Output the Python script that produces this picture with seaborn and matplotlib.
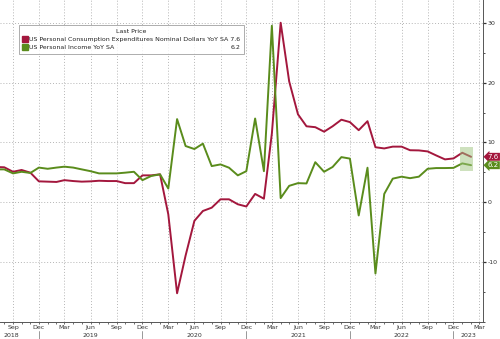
import numpy as np
import pandas as pd
import matplotlib
matplotlib.use("Agg")
import matplotlib.pyplot as plt
import matplotlib.dates as mdates
import matplotlib.transforms as mtrans
from matplotlib.lines import Line2D
from matplotlib.patches import Rectangle
from matplotlib.ticker import MultipleLocator
import seaborn as sns

# Monthly YoY % changes, Jul 2018 - Feb 2023
months = pd.date_range("2018-07-01", "2023-02-01", freq="MS")

pce_yoy = [5.9, 5.85, 5.1, 5.4, 4.95, 3.5,
           3.45, 3.4, 3.7, 3.55, 3.45, 3.5, 3.6, 3.55, 3.55, 3.2, 3.2, 4.5,
           4.5, 4.67, -2.0, -15.2, -8.9, -3.1, -1.45, -0.9, 0.5, 0.5, -0.33, -0.7,
           1.4, 0.6, 11.5, 30.0, 20.2, 14.7, 12.7, 12.55, 11.8, 12.7, 13.8, 13.4,
           12.05, 13.55, 9.2, 9.0, 9.3, 9.3, 8.7, 8.67, 8.5, 7.83, 7.17, 7.33,
           8.28, 7.6]

income_yoy = [5.5, 5.5, 4.83, 5.1, 4.9, 5.8,
              5.6, 5.8, 5.95, 5.8, 5.5, 5.2, 4.83, 4.83, 4.83, 4.95, 5.1, 3.7,
              4.4, 4.67, 2.3, 13.9, 9.4, 8.9, 9.8, 6.05, 6.33, 5.78, 4.5, 5.2,
              14.0, 5.2, 29.5, 0.7, 2.75, 3.2, 3.15, 6.7, 5.1, 5.9, 7.55, 7.3,
              -2.2, 5.78, -11.9, 1.4, 3.95, 4.28, 4.03, 4.28, 5.6, 5.72, 5.72, 5.75,
              6.5, 6.2]

series_names = ["US Personal Consumption Expenditures Nominal Dollars YoY SA",
                "US Personal Income YoY SA"]
last_values = ["7.6", "6.2"]
colors = ["#a3173d", "#5a8c1c"]
year_labels = ["2018", "2019", "2020", "2021", "2022", "2023"]

df = pd.DataFrame({
    "date": list(months) * 2,
    "value": pce_yoy + income_yoy,
    "series": [series_names[0]] * len(months) + [series_names[1]] * len(months),
})

sns.set_style("white")
plt.rcParams["font.family"] = ["DejaVu Sans"]
plt.rcParams["axes.unicode_minus"] = False

TICK_FS = 4.5
LEG_FS = 4.5

fig = plt.figure(figsize=(5.0, 3.39), dpi=100)
ax = fig.add_axes([0.0, 17 / 339, 483 / 500, 322 / 339])

sns.lineplot(data=df, x="date", y="value", hue="series",
             palette=dict(zip(series_names, colors)), linewidth=1.4,
             legend=False, ax=ax)

x0, x1 = pd.Timestamp("2018-07-17"), pd.Timestamp("2023-03-15")
ax.set_xlim(x0, x1)
ax.set_ylim(-20, 33.8)
ax.set_xlabel("")
ax.set_ylabel("")

# Spines
for s in ["left", "top"]:
    ax.spines[s].set_visible(False)
for s in ["right", "bottom"]:
    ax.spines[s].set_color("#555555")
    ax.spines[s].set_linewidth(0.7)

# Y axis on the right
ax.yaxis.tick_right()
ax.set_yticks([-10, 0, 10, 20, 30])
ax.yaxis.set_minor_locator(MultipleLocator(5))
ax.tick_params(axis="y", which="both", direction="out", right=True, left=False,
               length=2.0, width=0.9, color="#333333", labelsize=TICK_FS, pad=1.3,
               labelcolor="#333333")
ax.tick_params(axis="y", which="minor", length=1.3, width=0.6)

# X axis: quarterly labels, monthly minor ticks
ax.xaxis.set_major_locator(mdates.MonthLocator(bymonth=[3, 6, 9, 12]))
ax.xaxis.set_major_formatter(mdates.DateFormatter("%b"))
ax.xaxis.set_minor_locator(mdates.MonthLocator())
ax.tick_params(axis="x", which="both", direction="out", bottom=True,
               length=1.5, width=0.6, color="#555555", labelsize=TICK_FS, pad=1.0,
               labelcolor="#333333")

ax.grid(True, which="major", linestyle=(0, (1, 2)), color="#b5b5b5", linewidth=0.7)

# Year row under the month labels
blend = mtrans.blended_transform_factory(ax.transData, ax.transAxes)
year_pos = [pd.Timestamp("2018-08-26")] + [pd.Timestamp(f"{y}-06-01") for y in range(2019, 2023)] \
    + [pd.Timestamp("2023-01-23")]
for d, lab in zip(year_pos, year_labels):
    ax.text(d, -0.042, lab, transform=blend, ha="center", va="center",
            fontsize=TICK_FS, color="#333333", clip_on=False)
for y in range(2018, 2023):
    ax.add_line(Line2D([pd.Timestamp(f"{y}-12-01")] * 2, [-0.028, -0.06],
                       transform=blend, color="#888888", linewidth=0.6, clip_on=False))

# Highlight around the latest readings
rx0, rx1 = pd.Timestamp("2022-12-24"), pd.Timestamp("2023-02-08")
ax.add_patch(Rectangle((mdates.date2num(rx0), 5.17),
                       mdates.date2num(rx1) - mdates.date2num(rx0), 4.0,
                       facecolor="#9fc57f", alpha=0.5, edgecolor="none", zorder=5))

# Last-value tags on the right axis
for val, col in zip(last_values, colors):
    ax.annotate(val, xy=(1.0, float(val)), xycoords=("axes fraction", "data"),
                xytext=(3.4, 0), textcoords="offset points", ha="left", va="center",
                fontsize=5.0, color="white", annotation_clip=False, zorder=6,
                bbox=dict(boxstyle="larrow,pad=0.14", facecolor=col, edgecolor="none"))

# Legend
handles = [Line2D([], [], marker="s", linestyle="none", markersize=4.6,
                  markerfacecolor=c, markeredgecolor=c) for c in colors]
labels = [f"{series_names[0]} {last_values[0]}", series_names[1]]
leg = ax.legend(handles, labels, title="Last Price", loc="upper left",
                bbox_to_anchor=(0.039, 0.922), borderaxespad=0, fontsize=LEG_FS,
                title_fontsize=LEG_FS, frameon=True, fancybox=False,
                handlelength=0.8, handletextpad=0.3, labelspacing=0.45,
                borderpad=0.6)
leg.get_frame().set_edgecolor("#888888")
leg.get_frame().set_linewidth(0.6)
for t in leg.get_texts():
    t.set_color("#222222")
leg.get_title().set_color("#222222")

fig.canvas.draw()
txts = leg.get_texts()
r = txts[0].get_window_extent()
b = txts[1].get_window_extent()
inv = fig.transFigure.inverted()
xr, yc = inv.transform((r.x1, (b.y0 + b.y1) / 2))
fig.text(xr, yc, last_values[1], ha="right", va="center", fontsize=LEG_FS, color="#222222")

fig.savefig("out.png", dpi=100)
